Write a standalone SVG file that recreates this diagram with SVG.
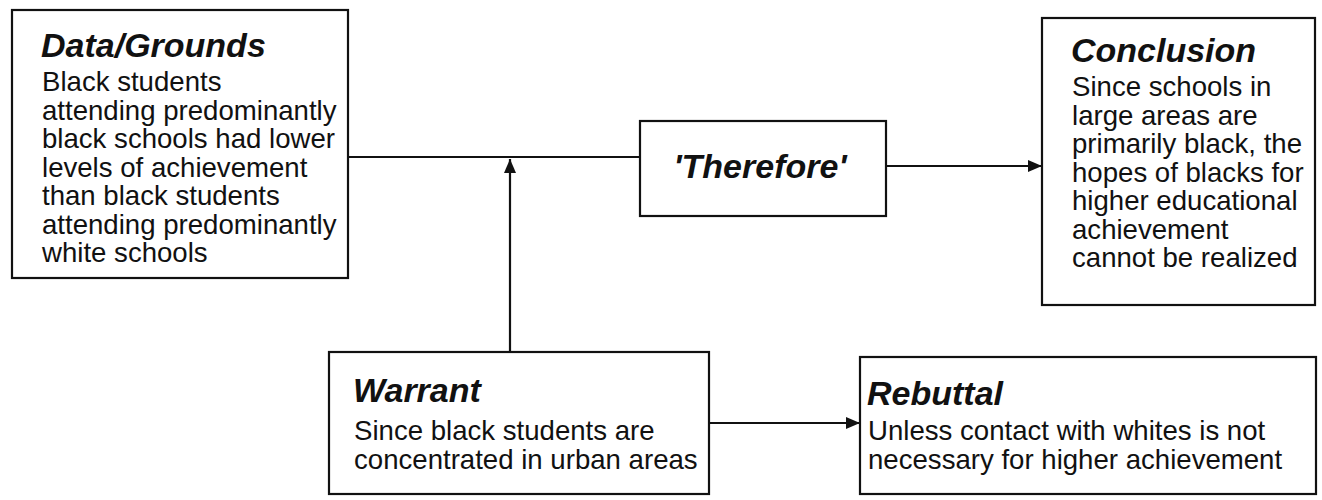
<svg xmlns="http://www.w3.org/2000/svg" width="1322" height="500" viewBox="0 0 1322 500">
  <style>
    .box { fill: #ffffff; stroke: #111111; stroke-width: 2.2; }
    .head { font-family: "Liberation Sans", Arial, sans-serif; font-weight: bold; font-style: italic; font-size: 34px; fill: #111111; }
    .body { font-family: "Liberation Sans", Arial, sans-serif; font-size: 27.6px; fill: #111111; }
    .conn { fill: none; stroke: #111111; stroke-width: 2.2; }
  </style>
  <defs>
    <marker id="arrow" viewBox="0 0 14 12" refX="14" refY="6" markerWidth="14" markerHeight="12" markerUnits="userSpaceOnUse" orient="auto">
      <path d="M0,0 L14,6 L0,12 z" fill="#111111"/>
    </marker>
  </defs>
  <rect width="1322" height="500" fill="#ffffff"/>

  <g id="connectors">
    <line class="conn" x1="348" y1="157" x2="640" y2="157"/>
    <line class="conn" x1="886" y1="166" x2="1042" y2="166" marker-end="url(#arrow)"/>
    <line class="conn" x1="510" y1="352" x2="510" y2="159" marker-end="url(#arrow)"/>
    <line class="conn" x1="709" y1="423" x2="860" y2="423" marker-end="url(#arrow)"/>
  </g>

  <g id="data">
    <rect class="box" x="12" y="10" width="336" height="268"/>
    <text class="head" x="41" y="57">Data/Grounds</text>
    <text class="body" x="42" y="91">Black students</text>
    <text class="body" x="42" y="119.5">attending predominantly</text>
    <text class="body" x="42" y="148">black schools had lower</text>
    <text class="body" x="42" y="176.5">levels of achievement</text>
    <text class="body" x="42" y="205">than black students</text>
    <text class="body" x="42" y="233.5">attending predominantly</text>
    <text class="body" x="42" y="262">white schools</text>
  </g>

  <g id="therefore">
    <rect class="box" x="640" y="121" width="246" height="95"/>
    <text class="head" x="760" y="178" text-anchor="middle">'Therefore'</text>
  </g>

  <g id="conclusion">
    <rect class="box" x="1042" y="18" width="273" height="287"/>
    <text class="head" x="1071" y="62">Conclusion</text>
    <text class="body" x="1072" y="96">Since schools in</text>
    <text class="body" x="1072" y="124.5">large areas are</text>
    <text class="body" x="1072" y="153">primarily black, the</text>
    <text class="body" x="1072" y="181.5">hopes of blacks for</text>
    <text class="body" x="1072" y="210">higher educational</text>
    <text class="body" x="1072" y="238.5">achievement</text>
    <text class="body" x="1072" y="267">cannot be realized</text>
  </g>

  <g id="warrant">
    <rect class="box" x="329" y="352" width="380" height="142"/>
    <text class="head" x="353" y="402">Warrant</text>
    <text class="body" x="354" y="440">Since black students are</text>
    <text class="body" x="354" y="469">concentrated in urban areas</text>
  </g>

  <g id="rebuttal">
    <rect class="box" x="860" y="357" width="456" height="137"/>
    <text class="head" x="867" y="405">Rebuttal</text>
    <text class="body" x="868" y="440">Unless contact with whites is not</text>
    <text class="body" x="868" y="469">necessary for higher achievement</text>
  </g>
</svg>
